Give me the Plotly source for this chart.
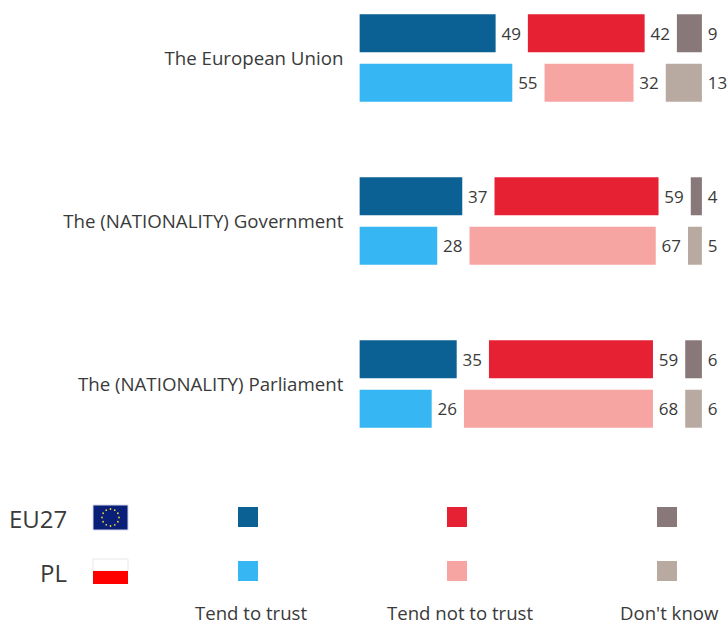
import math
import plotly.graph_objects as go

categories = ["The European Union", "The (NATIONALITY) Government", "The (NATIONALITY) Parliament"]
eu_trust = [49, 37, 35]
eu_not = [42, 59, 59]
eu_dk = [9, 4, 6]
pl_trust = [55, 28, 26]
pl_not = [32, 67, 68]
pl_dk = [13, 5, 6]

COL = {"eu_t": "#0b6193", "eu_n": "#e62134", "eu_d": "#89787a",
       "pl_t": "#36b6f2", "pl_n": "#f7a5a3", "pl_d": "#b8aaa1"}
FONT = "Open Sans"
TXT = "#3a3a3a"
W, H = 728, 624
PX = 2.78      # pixels per percentage point
X0 = 359.4
GAP = 11.6     # blank space between the three blocks, in points
ROW = 163      # pixels between categories
Y0 = 58        # pixel centre of first category

fig = go.Figure()


def add(name, group, vals, base, col):
    fig.add_trace(go.Bar(
        name=name, y=categories, x=vals, base=base, orientation="h",
        offsetgroup=group, marker=dict(color=col, line=dict(width=0)),
        text=vals, texttemplate="\u2009%{text}", textposition="outside",
        constraintext="none", cliponaxis=False,
        textfont=dict(family=FONT, size=17, color=TXT), showlegend=False,
        hoverinfo="skip"))


for grp, t, n, d, k in (("EU27", eu_trust, eu_not, eu_dk, "eu"), ("PL", pl_trust, pl_not, pl_dk, "pl")):
    add("Tend to trust", grp, t, [0] * 3, COL[k + "_t"])
    add("Tend not to trust", grp, n, [a + GAP for a in t], COL[k + "_n"])
    add("Don't know", grp, d, [a + b + 2 * GAP for a, b in zip(t, n)], COL[k + "_d"])


def rect(x0, y0, x1, y1, col, line=None):
    return dict(type="rect", xref="paper", yref="paper", x0=x0 / W, x1=x1 / W,
                y0=1 - y0 / H, y1=1 - y1 / H, fillcolor=col,
                line=dict(width=1 if line else 0, color=line or col), layer="above")


shapes = []
for x, a, b in ((238, "eu_t", "pl_t"), (447, "eu_n", "pl_n"), (657, "eu_d", "pl_d")):
    shapes.append(rect(x, 507, x + 20, 527, COL[a]))
    shapes.append(rect(x, 561, x + 20, 581, COL[b]))

# flags
shapes.append(rect(93, 505, 128, 530, "#0a1f78", "#d5d8e8"))
for i in range(12):
    cx = 110.5 + 8.5 * math.cos(i * math.pi / 6)
    cy = 517.5 + 8.5 * math.sin(i * math.pi / 6)
    shapes.append(dict(type="circle", xref="paper", yref="paper",
                       x0=(cx - 0.9) / W, x1=(cx + 0.9) / W,
                       y0=1 - (cy - 0.9) / H, y1=1 - (cy + 0.9) / H,
                       fillcolor="#e8d23a", line=dict(width=0), layer="above"))
shapes.append(rect(93, 559, 128, 571, "#ffffff", "#e8e8e8"))
shapes.append(rect(93, 571, 128, 584, "#ff0000"))


def label(x, y, s, size, anchor):
    return dict(x=x / W, y=1 - y / H, xref="paper", yref="paper", text=s, showarrow=False,
                xanchor=anchor, yanchor="middle",
                font=dict(family=FONT, size=size, color=TXT))


annotations = [
    label(68.5, 518, "EU27", 24, "right"),
    label(68.5, 572, "PL", 24, "right"),
    label(250.5, 612, "Tend to trust", 18.6, "center"),
    label(459.5, 612, "Tend not to trust", 18.6, "center"),
    label(669.5, 612, "Don't know", 18.6, "center"),
]

fig.update_layout(
    width=W, height=H, margin=dict(l=0, r=0, t=0, b=0, pad=0),
    paper_bgcolor="white", plot_bgcolor="white",
    barmode="group", bargap=0.393, bargroupgap=0.232,
    shapes=shapes, annotations=annotations,
    xaxis=dict(domain=[X0 / W, 1], range=[0, (W - X0) / PX], visible=False, fixedrange=True),
    yaxis=dict(domain=[0, 1], range=[(H - Y0) / ROW, -Y0 / ROW], type="category",
               categoryorder="array", categoryarray=categories,
               showgrid=False, zeroline=False, showline=False, ticks="",
               ticklabelstandoff=15, automargin=False,
               tickfont=dict(family=FONT, size=18.7, color=TXT)),
)
fig.write_html("out.html", config=dict(displayModeBar=False),
               post_script="document.body.style.margin='0';document.body.style.overflow='hidden';")
